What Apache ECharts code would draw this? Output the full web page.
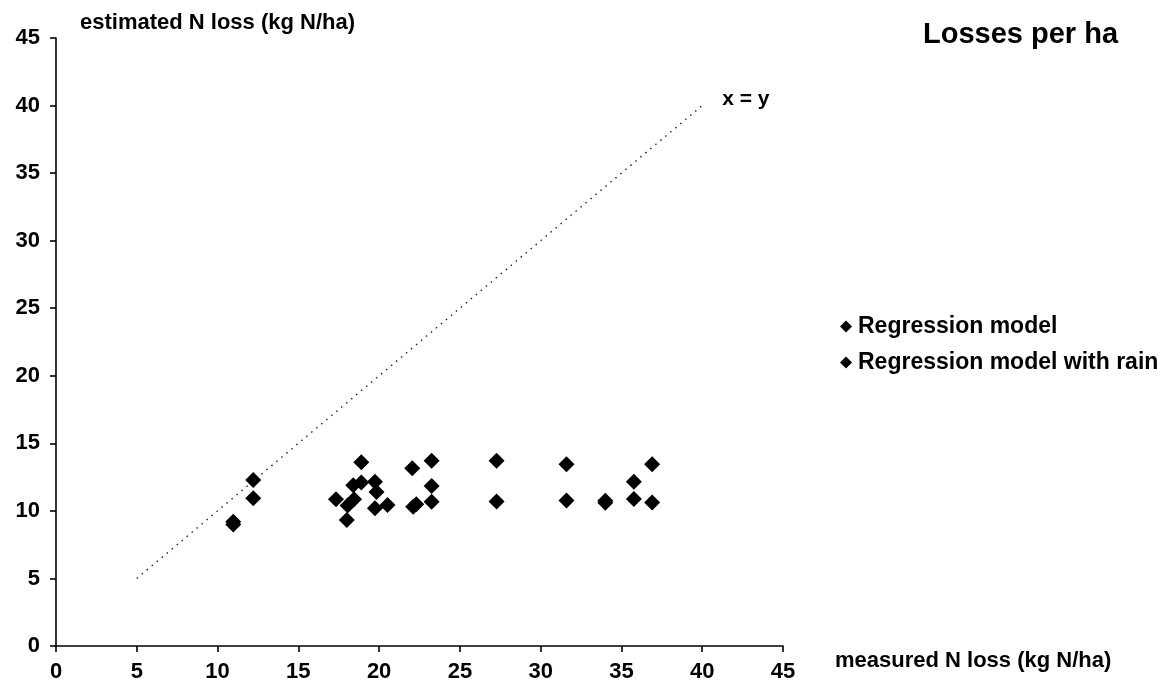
<!DOCTYPE html>
<html>
<head>
<meta charset="utf-8">
<script src="https://cdn.jsdelivr.net/npm/echarts@6/dist/echarts.min.js"></script>
<style>
html,body{margin:0;padding:0;background:#fff;}
#chart{width:1174px;height:690px;}
</style>
</head>
<body>
<div id="chart"></div>
<script>
// ---- data ----
var xTicks = [0, 5, 10, 15, 20, 25, 30, 35, 40, 45];
var yTicks = [0, 5, 10, 15, 20, 25, 30, 35, 40, 45];

var regressionX = [10.97, 12.21, 17.33, 18.0, 18.05, 18.4, 19.74, 19.84, 20.52, 22.11, 22.3, 23.25, 27.27, 31.6, 34.0, 35.77, 36.9];
var regressionY = [9.0, 10.93, 10.86, 9.33, 10.4, 11.9, 10.19, 11.4, 10.44, 10.3, 10.5, 10.68, 10.69, 10.76, 10.6, 10.88, 10.62];

var rainX = [10.97, 12.21, 18.45, 18.9, 18.9, 19.74, 22.05, 23.25, 23.25, 27.27, 31.6, 34.0, 35.77, 36.9];
var rainY = [9.2, 12.29, 10.86, 13.6, 12.1, 12.16, 13.15, 13.72, 11.84, 13.72, 13.45, 10.75, 12.16, 13.45];

var diagX = [5, 40];
var diagY = [5, 40];

var seriesNames = ['Regression model', 'Regression model with rain'];

function pairs(xs, ys) { return xs.map(function (x, i) { return [x, ys[i]]; }); }

var FONT = '"Liberation Sans", Arial, sans-serif';

var chart = echarts.init(document.getElementById('chart'), null, { renderer: 'canvas' });

var axisCommon = {
  type: 'value', min: 0, max: 45, interval: 5,
  splitLine: { show: false },
  axisLine: { show: true, onZero: false, lineStyle: { color: '#000', width: 1.6 } },
  axisTick: { show: true, inside: false, length: 6, lineStyle: { color: '#000', width: 1.6 } },
  axisLabel: { color: '#000', fontFamily: FONT, fontWeight: 'bold', fontSize: 22 }
};

var option = {
  backgroundColor: '#fff',
  animation: false,
  title: {
    text: 'Losses per ha',
    left: 923, top: 20, padding: 0,
    textStyle: { fontFamily: FONT, fontWeight: 'bold', fontSize: 29, color: '#000' }
  },
  legend: {
    orient: 'vertical',
    left: 835, top: 310,
    itemWidth: 12, itemHeight: 12, itemGap: 13,
    icon: 'diamond',
    data: seriesNames,
    itemStyle: { opacity: 1, color: '#000' },
    textStyle: { fontFamily: FONT, fontWeight: 'bold', fontSize: 23, color: '#000', padding: [0, 0, 0, 1] }
  },
  grid: { left: 56, right: 391, top: 38, bottom: 44, containLabel: false },
  xAxis: Object.assign({}, axisCommon, {
    name: 'measured N loss (kg N/ha)',
    nameLocation: 'end', nameGap: 52,
    nameTextStyle: { fontFamily: FONT, fontWeight: 'bold', fontSize: 22, color: '#000', verticalAlign: 'top', padding: [4, 0, 0, 0] },
    axisLabel: Object.assign({}, axisCommon.axisLabel, { margin: 15, formatter: function (v) { return xTicks.indexOf(v) >= 0 ? String(v) : ''; } })
  }),
  yAxis: Object.assign({}, axisCommon, {
    name: 'estimated N loss (kg N/ha)',
    nameLocation: 'end', nameGap: 4,
    nameTextStyle: { fontFamily: FONT, fontWeight: 'bold', fontSize: 22, color: '#000', align: 'left', padding: [0, 0, 0, 24] },
    axisLabel: Object.assign({}, axisCommon.axisLabel, { margin: 16, formatter: function (v) { return yTicks.indexOf(v) >= 0 ? String(v) : ''; } })
  }),
  series: [
    {
      name: 'x = y',
      type: 'line',
      data: pairs(diagX, diagY),
      symbol: 'none',
      silent: true,
      lineStyle: { type: [1.5, 5], color: '#222', width: 1.4 },
      endLabel: { show: true, formatter: 'x = y', distance: 20, offset: [0, -6], fontFamily: FONT, fontWeight: 'bold', fontSize: 21, color: '#000' },
      z: 1
    },
    {
      name: seriesNames[0],
      type: 'scatter',
      symbol: 'diamond',
      symbolSize: 16,
      itemStyle: { color: '#000', opacity: 1 },
      data: pairs(regressionX, regressionY),
      z: 3
    },
    {
      name: seriesNames[1],
      type: 'scatter',
      symbol: 'diamond',
      symbolSize: 16,
      itemStyle: { color: '#000', opacity: 1 },
      data: pairs(rainX, rainY),
      z: 3
    }
  ]
};

chart.setOption(option);
</script>
</body>
</html>
